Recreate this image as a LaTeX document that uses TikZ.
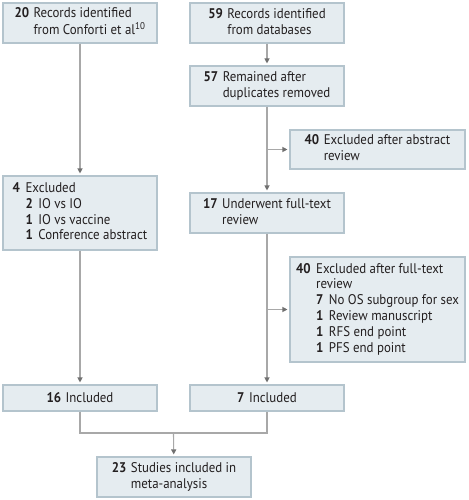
\documentclass[tikz,border=0pt]{standalone}
\usepackage{fontspec}
\setmainfont{PT Sans}[FakeStretch=0.92]
\usetikzlibrary{arrows.meta}
\definecolor{boxfill}{HTML}{E5ECF0}
\definecolor{boxline}{HTML}{B4C4CD}
\definecolor{conn}{HTML}{A8A8A8}
\definecolor{tipc}{HTML}{707070}
\definecolor{txt}{HTML}{231F20}
\tikzset{
  flowbox/.style={draw=boxline, fill=boxfill, line width=1.1pt, rectangle, inner sep=0pt,
    text=txt, font=\fontsize{14}{15.8}\selectfont},
  conline/.style={draw=conn, line width=1.1pt},
  conarrow/.style={conline, -{Triangle[length=5pt,width=5pt,color=tipc]}, shorten >=2pt},
}
\newcommand{\nb}[1]{\textbf{#1}}
\setlength{\tabcolsep}{0pt}
\begin{document}
\begin{tikzpicture}[x=1pt,y=-1pt]
\path[fill=white] (0,0) rectangle (468,500);
\useasboundingbox (0,0) rectangle (468,500);

\node[flowbox, minimum width=154pt, minimum height=40pt] (b1) at (80,23)
  {\begin{tabular}{r@{\hspace{4.5pt}}l}\nb{20} & Records identified\\ & from Conforti et al\textsuperscript{10}\end{tabular}};
\node[flowbox, minimum width=154pt, minimum height=40pt] (b2) at (267,23)
  {\begin{tabular}{r@{\hspace{4.5pt}}l}\nb{59} & Records identified\\ & from databases\end{tabular}};
\node[flowbox, minimum width=154pt, minimum height=40pt] (b3) at (267,86)
  {\begin{tabular}{r@{\hspace{4.5pt}}l}\nb{57} & Remained after\\ & duplicates removed\end{tabular}};
\node[flowbox, minimum width=175pt, minimum height=39pt] (b4) at (377.5,149.5)
  {\begin{tabular}{r@{\hspace{4.5pt}}l}\nb{40} & Excluded after abstract\\ & review\end{tabular}};
\node[flowbox, minimum width=154pt, minimum height=74pt] (b5) at (80,213)
  {\begin{tabular}{r@{\hspace{5.5pt}}r@{\hspace{5.5pt}}l}\nb{4} & \multicolumn{2}{l}{Excluded}\\
   & \nb{2} & IO vs IO\\ & \nb{1} & IO vs vaccine\\ & \nb{1} & Conference abstract\end{tabular}};
\node[flowbox, minimum width=154pt, minimum height=40pt] (b6) at (267,213)
  {\begin{tabular}{r@{\hspace{4.5pt}}l}\nb{17} & Underwent full-text\\ & review\end{tabular}};
\node[flowbox, minimum width=175pt, minimum height=105pt] (b7) at (377.5,309.5)
  {\begin{tabular}{r@{\hspace{5.5pt}}r@{\hspace{5.5pt}}l}\nb{40} & \multicolumn{2}{l}{Excluded after full-text}\\
   & \multicolumn{2}{l}{review}\\
   & \nb{7} & No OS subgroup for sex\\ & \nb{1} & Review manuscript\\
   & \nb{1} & RFS end point\\ & \nb{1} & PFS end point\end{tabular}};
\node[flowbox, minimum width=154pt, minimum height=26pt] (b8) at (80,398)
  {\nb{16}\hspace{4.5pt}Included};
\node[flowbox, minimum width=154pt, minimum height=26pt] (b9) at (267,398)
  {\nb{7}\hspace{4.5pt}Included};
\node[flowbox, minimum width=154pt, minimum height=40pt] (b10) at (174,477)
  {\begin{tabular}{r@{\hspace{4.5pt}}l}\nb{23} & Studies included in\\ & meta-analysis\end{tabular}};

\coordinate (mj) at (173.5,433);

\draw[conarrow] (b1) -- (b5);
\draw[conarrow] (b5) -- (b8);
\draw[conarrow] (b2) -- (b3);
\draw[conarrow] (b3) -- (b6);
\draw[conarrow] (b4.west -| b3.south) -- (b4.west);
\draw[conarrow] (b6) -- (b9);
\draw[conarrow] (b7.west -| b6.south) -- (b7.west);
\draw[conline] (b8.south) |- (mj) -| (b9.south);
\draw[conarrow] (mj) -- (b10);
\end{tikzpicture}
\end{document}
